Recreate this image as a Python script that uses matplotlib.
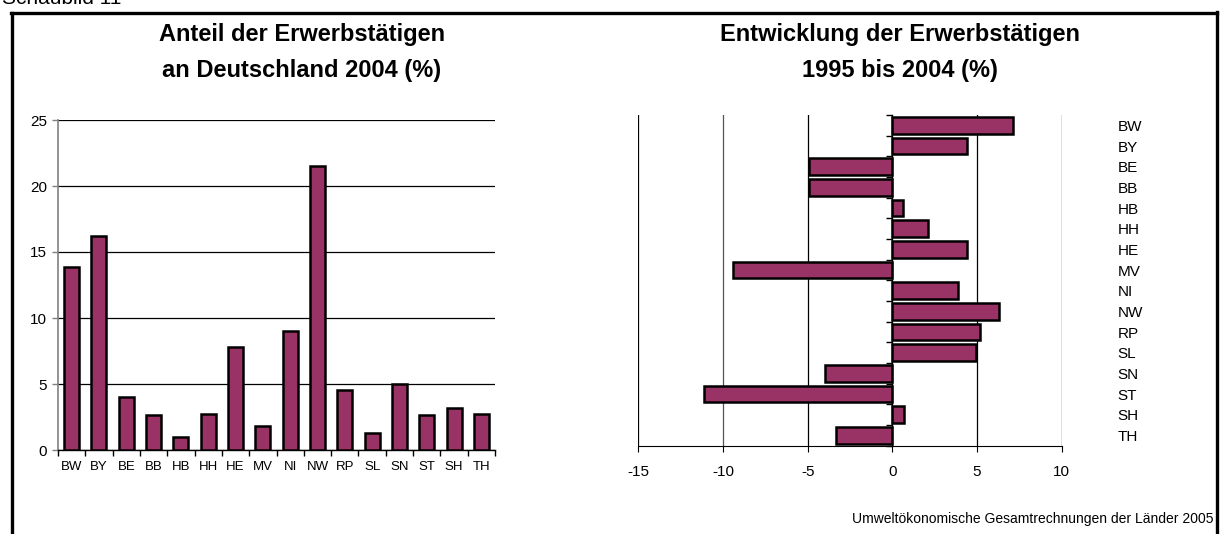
import matplotlib
matplotlib.use("Agg")
import matplotlib.pyplot as plt
from matplotlib.lines import Line2D
import numpy as np

plt.rcParams['font.family'] = ['Liberation Sans', 'DejaVu Sans']

states = ["BW", "BY", "BE", "BB", "HB", "HH", "HE", "MV", "NI", "NW", "RP", "SL", "SN", "ST", "SH", "TH"]
share_2004 = [13.9, 16.2, 4.0, 2.65, 1.0, 2.7, 7.8, 1.85, 9.05, 21.5, 4.55, 1.3, 5.0, 2.65, 3.15, 2.7]
change_1995_2004 = [7.1, 4.4, -4.9, -4.9, 0.6, 2.1, 4.4, -9.4, 3.9, 6.3, 5.2, 4.95, -4.0, -11.1, 0.7, -3.3]

title_left = "Anteil der Erwerbstätigen\nan Deutschland 2004 (%)"
title_right = "Entwicklung der Erwerbstätigen\n1995 bis 2004 (%)"
source = "Umweltökonomische Gesamtrechnungen der Länder 2005"
header = "Schaubild 11"

bar_color = "#993366"
W, H = 1220, 534
fig = plt.figure(figsize=(W / 100, H / 100), dpi=100)

def fx(px):
    return px / W

def fy(py):
    return 1 - py / H

# Outer frame
fig.add_artist(Line2D([fx(12), fx(12)], [fy(13), fy(540)], color="black", lw=2.4, transform=fig.transFigure))
fig.add_artist(Line2D([fx(11), fx(1217)], [fy(13), fy(13)], color="black", lw=2.4, transform=fig.transFigure))
fig.add_artist(Line2D([fx(1217), fx(1217)], [fy(12), fy(540)], color="black", lw=2.4, transform=fig.transFigure))
fig.text(fx(2), fy(4), header, fontsize=15, ha="left", va="baseline")

# ---------- Left chart ----------
axL = fig.add_axes([fx(58), fy(450), fx(495 - 58), fy(120) - fy(450)])
x = np.arange(len(states))
axL.bar(x, share_2004, width=0.55, color=bar_color, edgecolor="black", linewidth=1.8, zorder=3)
axL.set_xlim(-0.5, len(states) - 0.5)
axL.set_ylim(0, 25)
axL.set_yticks([0, 5, 10, 15, 20, 25])
axL.set_yticklabels(["0", "5", "10", "15", "20", "25"], fontsize=11)
axL.set_xticks(x)
axL.set_xticklabels(states, fontsize=9.5)
axL.set_xticks(np.arange(-0.5, len(states), 1), minor=True)
axL.tick_params(axis="x", which="major", length=0, pad=8)
axL.tick_params(axis="x", which="minor", length=4, direction="out", color="black", width=1)
axL.tick_params(axis="y", length=4, direction="out", color="#808080", width=1, pad=4)
for s in ["top", "right"]:
    axL.spines[s].set_visible(False)
axL.spines["left"].set_color("#808080")
axL.spines["left"].set_linewidth(1.2)
axL.spines["bottom"].set_color("black")
axL.spines["bottom"].set_linewidth(1.0)
axL.yaxis.grid(True, color="black", linewidth=0.9, zorder=0)
axL.set_axisbelow(True)
fig.text(fx(302), fy(35), title_left.split("\n")[0], fontsize=17, fontweight="bold", ha="center", va="center")
fig.text(fx(302), fy(71), title_left.split("\n")[1], fontsize=17, fontweight="bold", ha="center", va="center")

# ---------- Right chart ----------
axR = fig.add_axes([fx(638.3), fy(445.7), fx(1061.7 - 638.3), fy(115) - fy(445.7)])
y = np.arange(len(states))
axR.barh(y, change_1995_2004, height=0.8, color=bar_color, edgecolor="black", linewidth=1.8, zorder=3)
axR.set_xlim(-15, 10)
axR.set_ylim(len(states) - 0.5, -0.5)
axR.set_xticks([-15, -10, -5, 0, 5, 10])
axR.set_xticklabels(["-15", "-10", "-5", "0", "5", "10"], fontsize=11)
axR.tick_params(axis="x", length=4, direction="out", color="black", pad=10)
for xv in [-15, -10, -5, 5, 10]:
    axR.axvline(xv, color="black" if xv != -10 else "#555555", linewidth=0.9, zorder=0)
axR.spines["top"].set_visible(False)
axR.spines["right"].set_visible(False)
axR.spines["left"].set_position(("data", 0))
axR.spines["left"].set_color("black")
axR.spines["left"].set_linewidth(1.0)
axR.spines["left"].set_zorder(4)
axR.spines["bottom"].set_color("black")
axR.set_yticks(y)
axR.set_yticklabels(states, fontsize=11)
axR.set_yticks(np.arange(-0.5, len(states), 1), minor=True)
axR.tick_params(axis="y", which="major", left=False, right=True, labelleft=False, labelright=True, length=0, pad=40)
axR.tick_params(axis="y", which="minor", left=True, right=False, length=4, direction="out", color="black", width=1)
for lbl in axR.get_yticklabels():
    lbl.set_horizontalalignment("left")
fig.text(fx(900), fy(35), title_right.split("\n")[0], fontsize=17, fontweight="bold", ha="center", va="center")
fig.text(fx(900), fy(71), title_right.split("\n")[1], fontsize=17, fontweight="bold", ha="center", va="center")

fig.text(fx(1213), fy(523), source, fontsize=10, ha="right", va="baseline")

fig.savefig("out.png", dpi=100)
